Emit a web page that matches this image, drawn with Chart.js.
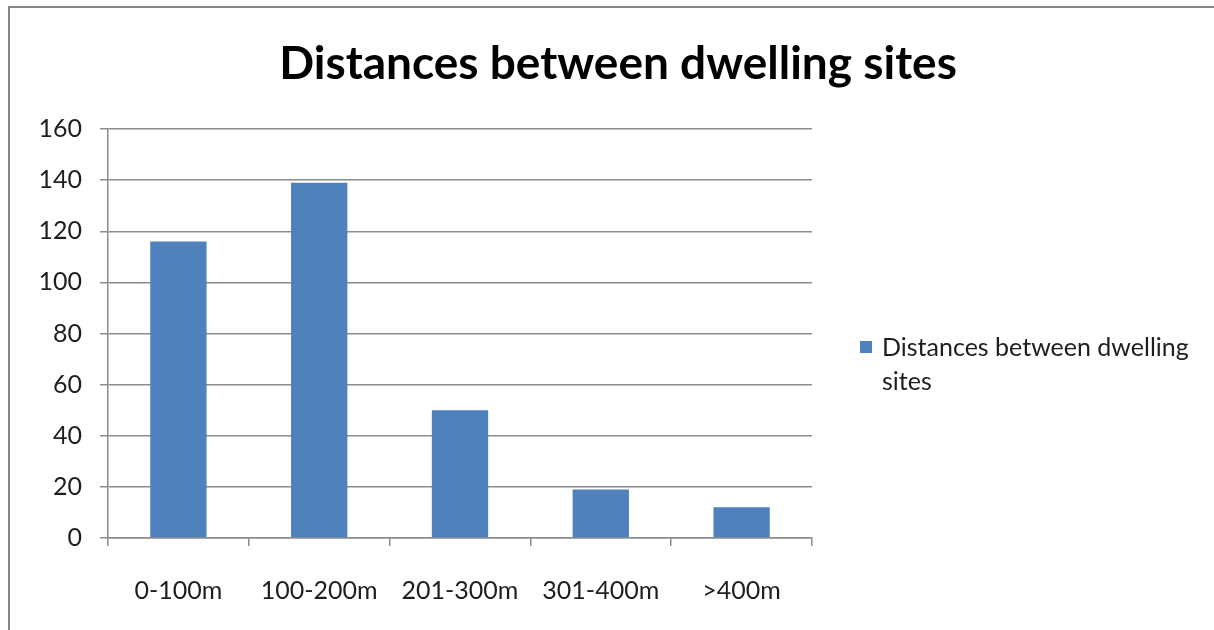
<!DOCTYPE html>
<html>
<head>
<meta charset="utf-8">
<script src="https://cdn.jsdelivr.net/npm/chart.js@4/dist/chart.umd.min.js"></script>
<style>
  html, body { margin: 0; padding: 0; background: #fff; overflow: hidden; }
  #wrap { position: relative; width: 1214px; height: 630px; }
  #frame { position: absolute; left: 8px; top: 6px; width: 1300px; height: 700px;
           border: 2px solid #858585; box-sizing: border-box; pointer-events: none; }
  canvas { position: absolute; left: 0; top: 0; }
</style>
</head>
<body>
<div id="wrap">
  <canvas id="chart" width="1214" height="630"></canvas>
  <div id="frame"></div>
</div>
<script>
// Chart content
const chartTitle = 'Distances between dwelling sites';
const seriesName = 'Distances between dwelling sites';
const categories = ['0-100m', '100-200m', '201-300m', '301-400m', '>400m'];
const siteCounts = [116, 139, 50, 19, 12];
const yTicks = [0, 20, 40, 60, 80, 100, 120, 140, 160];

const barColor = '#4F81BD';
const lineColor = '#8c8c8c';
const textColor = '#1e1e1e';
const fontFamily = 'Lato, "Open Sans", sans-serif';

// Centered bold title above the plot
const titlePlugin = {
  id: 'titleText',
  afterDraw(chart) {
    const ctx = chart.ctx;
    ctx.save();
    ctx.font = 'bold 46px ' + fontFamily;
    ctx.fillStyle = '#000';
    ctx.textAlign = 'center';
    ctx.textBaseline = 'alphabetic';
    ctx.fillText(chartTitle, 618, 79);
    ctx.restore();
  }
};

// Legend to the right of the plot, wrapping the series name
const sideLegend = {
  id: 'sideLegend',
  afterDraw(chart) {
    const ctx = chart.ctx;
    const ds = chart.data.datasets[0];
    const x = chart.chartArea.right + 48;
    const maxW = 1214 - (x + 22) - 12;
    ctx.save();
    ctx.font = '25px ' + fontFamily;
    const words = ds.label.split(' ');
    const lines = [];
    let cur = '';
    for (const w of words) {
      const test = cur ? cur + ' ' + w : w;
      if (ctx.measureText(test).width > maxW && cur) { lines.push(cur); cur = w; }
      else cur = test;
    }
    if (cur) lines.push(cur);
    const lineH = 34;
    const firstBase = 356;
    ctx.fillStyle = ds.backgroundColor;
    ctx.fillRect(x, firstBase - 15, 12, 12);
    ctx.fillStyle = textColor;
    ctx.textAlign = 'left';
    ctx.textBaseline = 'alphabetic';
    lines.forEach((ln, i) => ctx.fillText(ln, x + 22, firstBase + i * lineH));
    ctx.restore();
  }
};

new Chart(document.getElementById('chart'), {
  type: 'bar',
  data: {
    labels: categories,
    datasets: [{
      label: seriesName,
      data: siteCounts,
      backgroundColor: barColor,
      borderWidth: 0,
      categoryPercentage: 0.4,
      barPercentage: 1.0
    }]
  },
  options: {
    responsive: false,
    animation: false,
    devicePixelRatio: 1,
    layout: { padding: { top: 129, right: 402, left: 0, bottom: 0 } },
    plugins: {
      legend: { display: false },
      title: { display: false },
      tooltip: { enabled: false }
    },
    scales: {
      x: {
        offset: true,
        grid: { display: true, offset: true, drawOnChartArea: false, drawTicks: true,
                tickLength: 8, color: lineColor, lineWidth: 1.5 },
        border: { display: true, color: lineColor, width: 1.5 },
        ticks: { color: textColor, font: { family: fontFamily, size: 25 }, padding: 30,
                 maxRotation: 0, autoSkip: false },
        afterFit(s) { s.height = 92; }
      },
      y: {
        min: 0,
        max: 160,
        afterBuildTicks(s) { s.ticks = yTicks.map(v => ({ value: v })); },
        grid: { color: lineColor, lineWidth: 1.5, drawTicks: true, tickLength: 8 },
        border: { display: true, color: lineColor, width: 1.5 },
        ticks: { color: textColor, font: { family: fontFamily, size: 25 }, padding: 18 },
        afterFit(s) { s.width = 108; }
      }
    }
  },
  plugins: [titlePlugin, sideLegend]
});
</script>
</body>
</html>
